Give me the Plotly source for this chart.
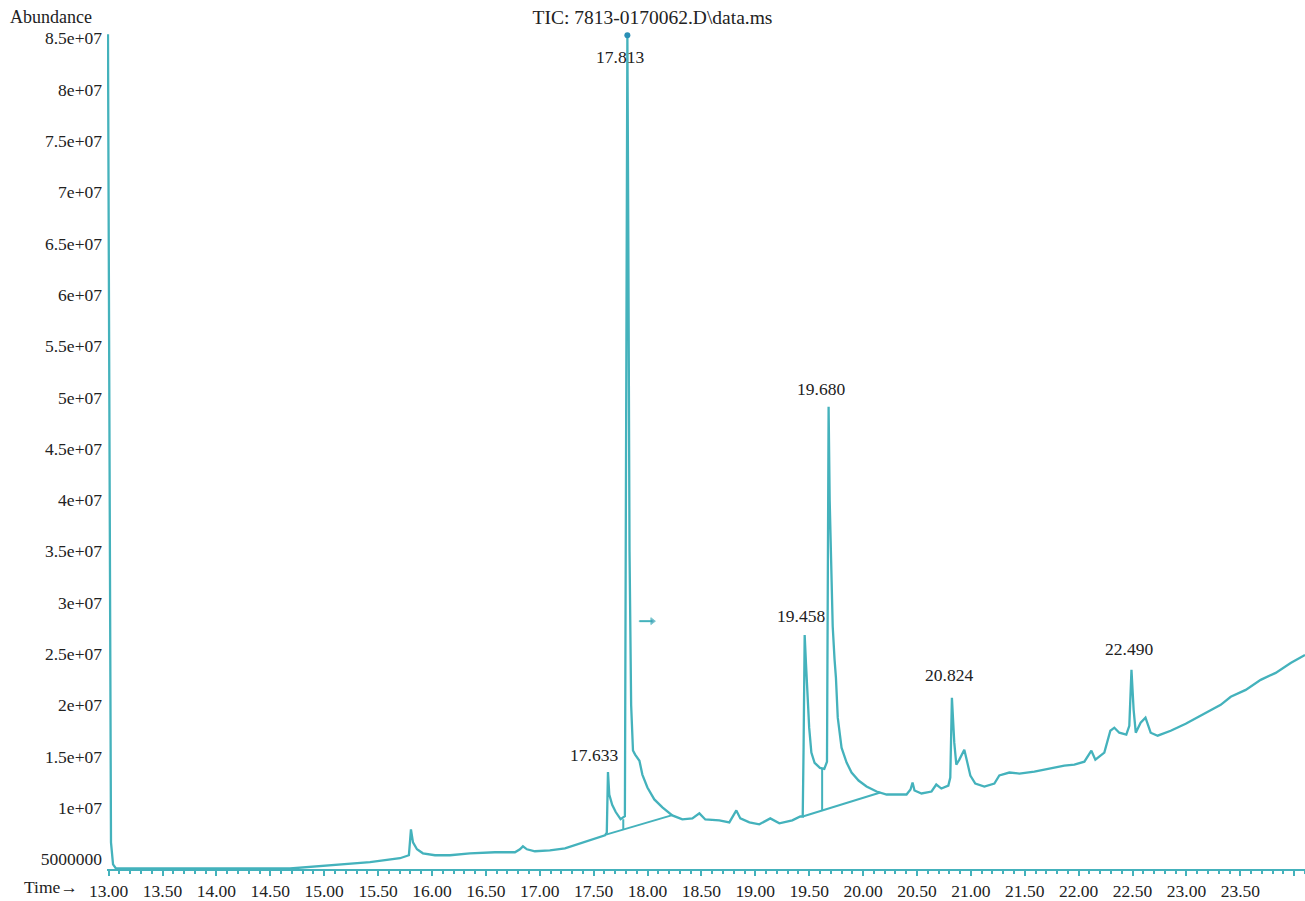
import plotly.graph_objects as go

# Total ion chromatogram (retention time in minutes, abundance in counts)
trace_times = [
    12.994, 13.004, 13.013, 13.022, 13.041, 13.068, 14.683, 15.054, 15.425, 15.703,
    15.768, 15.786, 15.805, 15.824, 15.861, 15.916, 16.028, 16.167, 16.352, 16.584,
    16.770, 16.816, 16.844, 16.881, 16.955, 17.094, 17.234, 17.354, 17.466, 17.558,
    17.605, 17.622, 17.628, 17.645, 17.672, 17.705, 17.750, 17.790, 17.800, 17.822,
    17.833, 17.848, 17.865, 17.885, 17.925, 17.952, 17.999, 18.063, 18.138, 18.230,
    18.323, 18.416, 18.481, 18.536, 18.666, 18.759, 18.824, 18.861, 18.945, 19.037,
    19.139, 19.223, 19.343, 19.417, 19.440, 19.448, 19.453, 19.470, 19.485, 19.500,
    19.520, 19.550, 19.600, 19.640, 19.665, 19.672, 19.690, 19.705, 19.718, 19.735,
    19.748, 19.765, 19.800, 19.847, 19.893, 19.958, 20.032, 20.125, 20.218, 20.311,
    20.403, 20.440, 20.459, 20.477, 20.542, 20.635, 20.679, 20.726, 20.791, 20.809,
    20.846, 20.865, 20.893, 20.939, 20.967, 20.995, 21.041, 21.125, 21.218, 21.264,
    21.357, 21.450, 21.589, 21.728, 21.867, 21.960, 22.053, 22.118, 22.155, 22.238,
    22.294, 22.331, 22.377, 22.442, 22.470, 22.510, 22.530, 22.575, 22.620, 22.668,
    22.733, 22.854, 22.993, 23.132, 23.225, 23.318, 23.411, 23.550, 23.689, 23.828,
    23.967, 24.100,
]
trace_abundance = [
    85.4e6, 49.9e6, 20.7e6, 6.65e6, 4.5e6, 4.1e6, 4.1e6, 4.38e6, 4.71e6, 5.10e6,
    5.29e6, 5.39e6, 7.91e6, 6.65e6, 5.97e6, 5.58e6, 5.39e6, 5.39e6, 5.58e6, 5.68e6,
    5.68e6, 5.97e6, 6.26e6, 5.97e6, 5.78e6, 5.87e6, 6.07e6, 6.46e6, 6.84e6, 7.14e6,
    7.33e6, 7.6e6, 11.5e6, 11.3e6, 10.3e6, 9.6e6, 8.9e6, 9.2e6, 40.0e6, 65.0e6,
    35.0e6, 20.0e6, 15.6e6, 15.2e6, 14.6e6, 13.25e6, 11.99e6, 10.83e6, 10.05e6, 9.27e6,
    8.88e6, 8.98e6, 9.47e6, 8.88e6, 8.79e6, 8.59e6, 9.76e6, 8.98e6, 8.59e6, 8.40e6,
    8.98e6, 8.50e6, 8.79e6, 9.18e6, 9.17e6, 16.0e6, 24.0e6, 24.1e6, 20.7e6, 17.8e6,
    15.4e6, 14.4e6, 13.9e6, 13.8e6, 14.5e6, 35.0e6, 40.0e6, 32.0e6, 27.7e6, 24.5e6,
    22.7e6, 18.8e6, 15.87e6, 14.42e6, 13.45e6, 12.67e6, 12.09e6, 11.60e6, 11.31e6, 11.31e6,
    11.31e6, 11.80e6, 12.48e6, 11.70e6, 11.41e6, 11.60e6, 12.28e6, 11.89e6, 12.18e6, 12.96e6,
    16.36e6, 14.22e6, 14.71e6, 15.68e6, 14.42e6, 13.16e6, 12.38e6, 12.09e6, 12.38e6, 13.16e6,
    13.45e6, 13.35e6, 13.54e6, 13.83e6, 14.13e6, 14.22e6, 14.51e6, 15.58e6, 14.71e6, 15.39e6,
    17.52e6, 17.82e6, 17.33e6, 17.14e6, 18.0e6, 19.56e6, 17.33e6, 18.3e6, 18.79e6, 17.33e6,
    17.04e6, 17.52e6, 18.20e6, 18.98e6, 19.56e6, 20.05e6, 20.83e6, 21.50e6, 22.48e6, 23.16e6,
    24.13e6, 24.90e6,
]

# Labelled peak apexes
peak_times = [17.633, 17.813, 19.458, 19.680, 20.824, 22.490]
peak_abundance = [13.5e6, 85.3e6, 26.84e6, 49.08e6, 20.73e6, 23.45e6]
peak_labels = ["17.633", "17.813", "19.458", "19.680", "20.824", "22.490"]

# Integration baselines and peak drop lines
baseline_a_times = [17.615, 18.23]
baseline_a_abundance = [7.4e6, 9.3e6]
baseline_b_times = [19.44, 20.16]
baseline_b_abundance = [9.17e6, 11.5e6]
drop_times = [17.775, 19.620]
drop_top = [8.9e6, 13.8e6]
drop_bottom = [7.9e6, 9.74e6]

# Retention marker beside the main peak
marker_times = [17.925, 18.045]
marker_abundance = [28.2e6, 28.2e6]

# Axis tick labels
y_tick_values = [5e6, 10e6, 15e6, 20e6, 25e6, 30e6, 35e6, 40e6, 45e6,
                 50e6, 55e6, 60e6, 65e6, 70e6, 75e6, 80e6, 85e6]
y_tick_text = ["5000000", "1e+07", "1.5e+07", "2e+07", "2.5e+07", "3e+07",
               "3.5e+07", "4e+07", "4.5e+07", "5e+07", "5.5e+07", "6e+07",
               "6.5e+07", "7e+07", "7.5e+07", "8e+07", "8.5e+07"]

TEAL = "#44b2bc"
TEXT = "#222222"
FONT = "Liberation Serif"

# merge the labelled apexes into the trace so each label sits on its own peak
points = sorted(zip(trace_times + peak_times, trace_abundance + peak_abundance))
tic_t = [p[0] for p in points]
tic_v = [p[1] for p in points]

fig = go.Figure()
fig.add_trace(go.Scatter(x=tic_t, y=tic_v, mode="lines",
                         line=dict(color=TEAL, width=2.3), hoverinfo="skip"))
for bt, bv in [(baseline_a_times, baseline_a_abundance),
               (baseline_b_times, baseline_b_abundance)]:
    fig.add_trace(go.Scatter(x=bt, y=bv, mode="lines",
                             line=dict(color=TEAL, width=2), hoverinfo="skip"))
for t, top, bot in zip(drop_times, drop_top, drop_bottom):
    fig.add_trace(go.Scatter(x=[t, t], y=[top, bot], mode="lines",
                             line=dict(color=TEAL, width=2), hoverinfo="skip"))
fig.add_trace(go.Scatter(x=marker_times, y=marker_abundance, mode="lines+markers",
                         line=dict(color=TEAL, width=2),
                         marker=dict(symbol=["line-ew", "triangle-right"], size=[1, 6],
                                     color="#2a95b0"),
                         hoverinfo="skip"))
fig.add_trace(go.Scatter(x=[peak_times[1]], y=[peak_abundance[1]], mode="markers",
                         marker=dict(color="#2a8fb5", size=6), hoverinfo="skip"))

# label offsets (pixels) from each apex
label_shift = [(-14, 17), (-7, -22), (-4, 19), (-8, 18), (-3, 23), (-2, 21)]
for t, v, txt, (dx, dy) in zip(peak_times, peak_abundance, peak_labels, label_shift):
    fig.add_annotation(x=t, y=v, text=txt, showarrow=False, xshift=dx, yshift=dy,
                       font=dict(family=FONT, size=17.5, color=TEXT))

fig.add_annotation(xref="paper", yref="paper", x=0, y=1, text="Abundance",
                   showarrow=False, xanchor="right", yanchor="middle",
                   xshift=-13, yshift=12, font=dict(family=FONT, size=18, color=TEXT))
fig.add_annotation(xref="paper", yref="paper", x=0, y=0, text="Time\u2192",
                   showarrow=False, xanchor="right", yanchor="middle",
                   xshift=-27, yshift=-18, font=dict(family=FONT, size=17.5, color=TEXT))

fig.update_layout(
    width=1305, height=901,
    margin=dict(l=107, r=0, t=29, b=30),
    paper_bgcolor="white", plot_bgcolor="white",
    showlegend=False,
    title=dict(text="TIC: 7813-0170062.D\\data.ms", xref="container", x=0.5,
               xanchor="center", y=1 - 17 / 901, yanchor="middle",
               font=dict(family=FONT, size=19.5, color=TEXT)),
    xaxis=dict(range=[12.985, 24.10], tick0=13, dtick=0.5, tickformat=".2f",
               ticks="outside", ticklen=5, tickwidth=2, tickcolor=TEAL,
               showline=True, linecolor=TEAL, linewidth=2,
               minor=dict(dtick=0.1, ticks="outside", ticklen=3, tickwidth=2,
                          tickcolor=TEAL),
               showgrid=False, zeroline=False,
               tickfont=dict(family=FONT, size=17.5, color=TEXT)),
    yaxis=dict(range=[4.05e6, 85.9e6], tickvals=y_tick_values, ticktext=y_tick_text,
               ticks="", showline=False, showgrid=False, zeroline=False,
               ticklabelstandoff=4,
               tickfont=dict(family=FONT, size=17.5, color=TEXT)),
)

fig.write_html("out.html")
